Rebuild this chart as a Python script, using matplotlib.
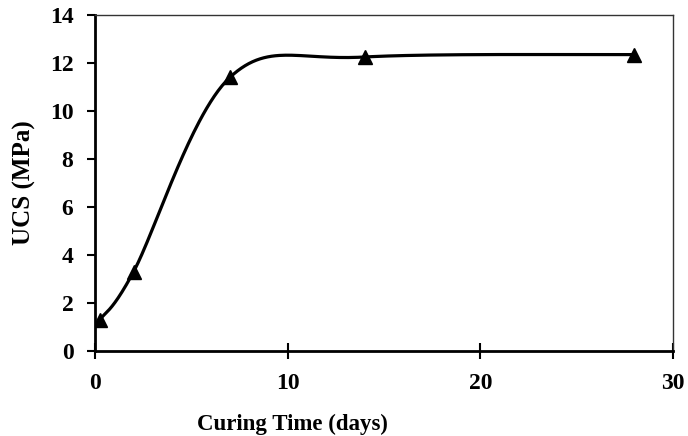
import numpy as np
import matplotlib
matplotlib.use("Agg")
import matplotlib.pyplot as plt

days = [0.25, 2, 7, 14, 28]
ucs = [1.3, 3.3, 11.4, 12.25, 12.35]
x_ticks = [0, 10, 20, 30]
y_ticks = [0, 2, 4, 6, 8, 10, 12, 14]

plt.rcParams['font.family'] = ['Liberation Serif']
plt.rcParams['font.weight'] = 'bold'

fig = plt.figure(figsize=(6.88, 4.36), dpi=100)
ax = fig.add_axes([95/688, 1-351/436, (673-95)/688, (351-15)/436])

# Excel-like smoothed line (Catmull-Rom Bezier in screen-scaled space)
sx, sy = 578/30, 336/14
P = np.column_stack([np.array(days)*sx, np.array(ucs)*sy])
n = len(P)
curve = []
t = np.linspace(0, 1, 60)
for i in range(n-1):
    p0 = P[i-1] if i > 0 else P[i]
    p1 = P[i]
    p2 = P[i+1]
    p3 = P[i+2] if i+2 < n else P[i+1]
    c1 = p1 + (p2 - p0)/6
    c2 = p2 - (p3 - p1)/6
    seg = ((1-t)**3)[:, None]*p1 + (3*(1-t)**2*t)[:, None]*c1 + (3*(1-t)*t**2)[:, None]*c2 + (t**3)[:, None]*p2
    curve.append(seg)
curve = np.vstack(curve)
ax.plot(curve[:, 0]/sx, curve[:, 1]/sy, color='black', lw=2.3, zorder=2)
ax.plot(days, ucs, linestyle='none', marker='^', color='black', markersize=10, zorder=3)

ax.set_xlim(0, 30)
ax.set_ylim(0, 14)
ax.set_xticks(x_ticks)
ax.set_yticks(y_ticks)
ax.tick_params(axis='both', labelsize=17, width=1.5)
ax.tick_params(axis='x', direction='inout', length=11, pad=10)
ax.tick_params(axis='y', direction='out', length=5.5, pad=10)
for lab in ax.get_xticklabels() + ax.get_yticklabels():
    lab.set_fontweight('bold')
ax.spines['bottom'].set_linewidth(2)
ax.spines['left'].set_linewidth(2)
ax.spines['top'].set_linewidth(1)
ax.spines['right'].set_linewidth(1)
ax.spines['top'].set_color('#333333')
ax.spines['right'].set_color('#333333')

ax.set_xlabel('Curing Time (days)', fontsize=16.5, fontweight='bold', va='center', ha='center')
ax.xaxis.set_label_coords((292-95)/578, (351-424)/336)
ax.set_ylabel('UCS (MPa)', fontsize=18, fontweight='bold', va='center', ha='center')
ax.yaxis.set_label_coords((24-95)/578, 0.5)

fig.savefig('out.png', dpi=100)
